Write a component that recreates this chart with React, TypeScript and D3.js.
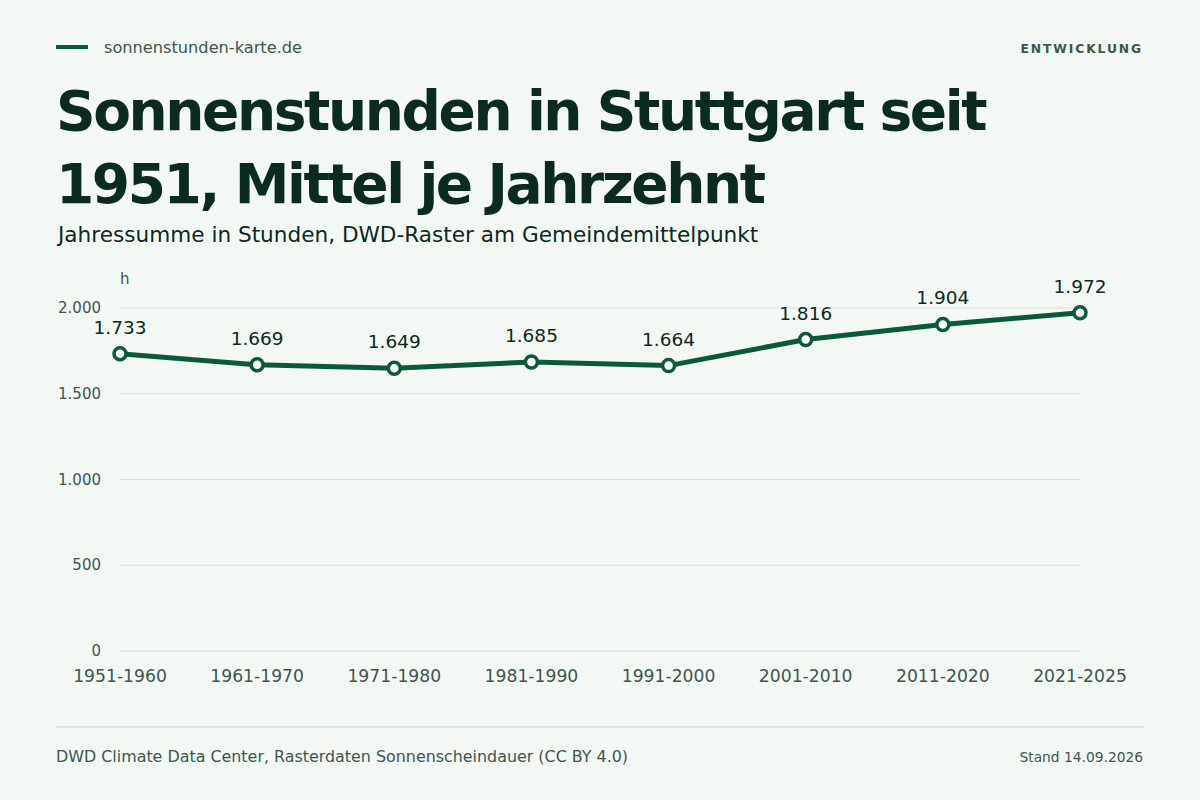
import React, { useEffect, useRef } from 'react';
import * as d3 from 'd3';

// Decade means of annual sunshine hours, Stuttgart
const decades = ['1951-1960', '1961-1970', '1971-1980', '1981-1990', '1991-2000', '2001-2010', '2011-2020', '2021-2025'];
const hours = [1733, 1669, 1649, 1685, 1664, 1816, 1904, 1972];
const yTicks = [0, 500, 1000, 1500, 2000];

const W = 1200;
const H = 800;
const FONT = '"DejaVu Sans", Roboto, sans-serif';
const BG = '#f3f8f5';
const DARK = '#0b2a20';
const MUTED = '#3d574d';
const GREEN = '#0a5a3a';
const GRID = '#d9dedb';

const fmt = (v: number) => d3.format(',')(v).replace(/,/g, '.');

const App: React.FC = () => {
  const svgRef = useRef<SVGSVGElement>(null);

  useEffect(() => {
    if (!svgRef.current) return;
    const svg = d3.select(svgRef.current);
    svg.selectAll('*').remove();

    svg.append('rect').attr('width', W).attr('height', H).attr('fill', BG);

    // header
    svg.append('rect').attr('x', 56).attr('y', 45).attr('width', 32).attr('height', 4).attr('fill', GREEN);
    svg.append('text')
      .attr('x', 104).attr('y', 53)
      .attr('font-size', 16.2).attr('fill', MUTED)
      .text('sonnenstunden-karte.de');
    svg.append('text')
      .attr('x', 1143).attr('y', 53)
      .attr('text-anchor', 'end')
      .attr('font-size', 12.3).attr('font-weight', 700)
      .attr('letter-spacing', 1.9).attr('fill', MUTED)
      .text('ENTWICKLUNG');

    // title + subtitle
    const title = svg.append('text')
      .attr('x', 56).attr('font-size', 55).attr('font-weight', 700)
      .attr('fill', DARK).attr('letter-spacing', -2.4);
    title.append('tspan').attr('x', 56).attr('y', 130).text('Sonnenstunden in Stuttgart seit');
    title.append('tspan').attr('x', 56).attr('y', 203).text('1951, Mittel je Jahrzehnt');

    svg.append('text')
      .attr('x', 58).attr('y', 242)
      .attr('font-size', 21.6).attr('fill', DARK)
      .text('Jahressumme in Stunden, DWD-Raster am Gemeindemittelpunkt');

    // scales
    const x = d3.scalePoint<string>().domain(decades).range([120, 1080]);
    const y = d3.scaleLinear().domain([0, 2000]).range([651, 308]);

    // grid + y ticks
    const g = svg.append('g');
    g.selectAll('line.grid')
      .data(yTicks)
      .join('line')
      .attr('class', 'grid')
      .attr('x1', 120).attr('x2', 1080)
      .attr('y1', d => y(d)).attr('y2', d => y(d))
      .attr('stroke', GRID).attr('stroke-width', 1.2);

    g.selectAll('text.ytick')
      .data(yTicks)
      .join('text')
      .attr('class', 'ytick')
      .attr('x', 101).attr('y', d => y(d) + 5)
      .attr('text-anchor', 'end')
      .attr('font-size', 15).attr('fill', MUTED)
      .text(d => fmt(d));

    svg.append('text')
      .attr('x', 120).attr('y', 284)
      .attr('font-size', 15).attr('fill', MUTED)
      .text('h');

    // x labels
    g.selectAll('text.xtick')
      .data(decades)
      .join('text')
      .attr('class', 'xtick')
      .attr('x', d => x(d)!).attr('y', 682)
      .attr('text-anchor', 'middle')
      .attr('font-size', 17.2).attr('fill', MUTED)
      .text(d => d);

    // line
    const data = decades.map((d, i) => ({ d, v: hours[i] }));
    const line = d3.line<{ d: string; v: number }>()
      .x(p => x(p.d)!)
      .y(p => y(p.v));

    svg.append('path')
      .datum(data)
      .attr('fill', 'none')
      .attr('stroke', GREEN)
      .attr('stroke-width', 5)
      .attr('stroke-linejoin', 'round')
      .attr('d', line);

    svg.selectAll('circle.pt')
      .data(data)
      .join('circle')
      .attr('class', 'pt')
      .attr('cx', p => x(p.d)!).attr('cy', p => y(p.v))
      .attr('r', 6)
      .attr('fill', '#ffffff')
      .attr('stroke', GREEN).attr('stroke-width', 3.5);

    svg.selectAll('text.val')
      .data(data)
      .join('text')
      .attr('class', 'val')
      .attr('x', p => x(p.d)!).attr('y', p => y(p.v) - 20)
      .attr('text-anchor', 'middle')
      .attr('font-size', 18.5).attr('fill', DARK)
      .text(p => fmt(p.v));

    // footer
    svg.append('line')
      .attr('x1', 56).attr('x2', 1144)
      .attr('y1', 727).attr('y2', 727)
      .attr('stroke', GRID).attr('stroke-width', 1.5);
    svg.append('text')
      .attr('x', 56).attr('y', 762)
      .attr('font-size', 15.9).attr('fill', MUTED)
      .text('DWD Climate Data Center, Rasterdaten Sonnenscheindauer (CC BY 4.0)');
    svg.append('text')
      .attr('x', 1143).attr('y', 762)
      .attr('text-anchor', 'end')
      .attr('font-size', 13.8).attr('fill', MUTED)
      .text('Stand 14.09.2026');
  }, []);

  return (
    <svg
      ref={svgRef}
      width={W}
      height={H}
      viewBox={`0 0 ${W} ${H}`}
      style={{ display: 'block', position: 'absolute', left: 0, top: 0, fontFamily: FONT }}
    />
  );
};

export default App;
